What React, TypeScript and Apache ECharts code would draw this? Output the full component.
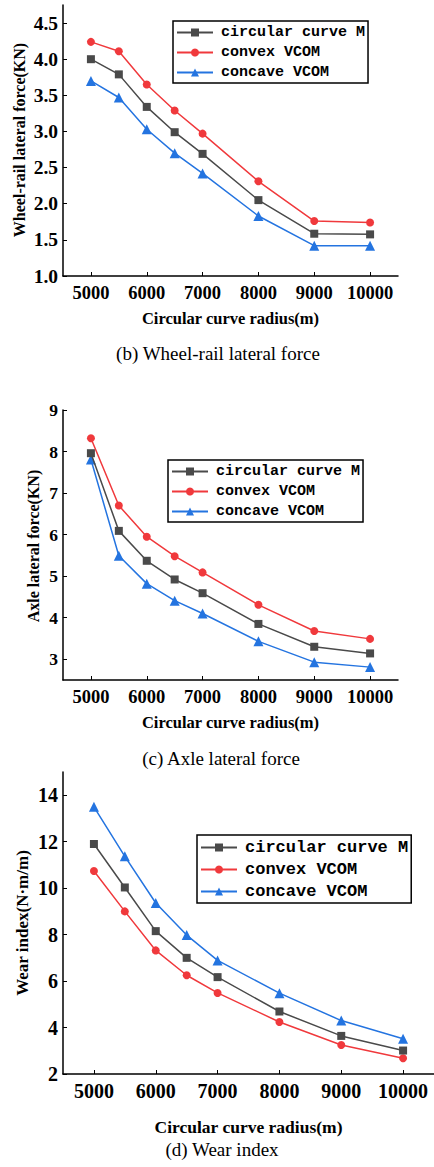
import React, { useEffect, useRef } from "react";
import * as echarts from "echarts";

const radius = [5000, 5500, 6000, 6500, 7000, 8000, 9000, 10000];
const xTicks = [5000, 6000, 7000, 8000, 9000, 10000];
const seriesNames = ["circular curve M", "convex VCOM", "concave VCOM"];

// (b) Wheel-rail lateral force (KN)
const lateralCircular = [4.0, 3.79, 3.34, 2.99, 2.69, 2.05, 1.585, 1.576];
const lateralConvex = [4.24, 4.11, 3.65, 3.29, 2.97, 2.31, 1.76, 1.74];
const lateralConcave = [3.7, 3.47, 3.03, 2.7, 2.42, 1.83, 1.42, 1.42];
const lateralTicks = [1.0, 1.5, 2.0, 2.5, 3.0, 3.5, 4.0, 4.5];

// (c) Axle lateral force (KN)
const axleCircular = [7.96, 6.09, 5.37, 4.92, 4.59, 3.85, 3.3, 3.14];
const axleConvex = [8.32, 6.7, 5.95, 5.48, 5.09, 4.31, 3.68, 3.49];
const axleConcave = [7.81, 5.49, 4.82, 4.41, 4.1, 3.43, 2.93, 2.81];
const axleTicks = [3, 4, 5, 6, 7, 8, 9];

// (d) Wear index (N·m/m)
const wearCircular = [11.9, 10.03, 8.15, 7.0, 6.17, 4.69, 3.64, 3.01];
const wearConvex = [10.74, 9.0, 7.32, 6.25, 5.49, 4.24, 3.25, 2.68];
const wearConcave = [13.5, 11.37, 9.36, 7.98, 6.89, 5.48, 4.3, 3.52];
const wearTicks = [2, 4, 6, 8, 10, 12, 14];

const COLORS = ["#4a4a4a", "#f0393c", "#2474e0"];
const SYMBOLS = ["rect", "circle", "triangle"];
const SERIF = "'Liberation Serif', 'Times New Roman', serif";
const MONO = "'Liberation Mono', 'Courier New', monospace";

export default function App() {
  const ref = useRef<HTMLDivElement>(null);

  useEffect(() => {
    if (!ref.current) return;
    const chart = echarts.init(ref.current, undefined, { renderer: "svg" });

    const grids = [
      { left: 63, top: 5, width: 335, height: 271 },
      { left: 63, top: 410, width: 335, height: 270 },
      { left: 63, top: 772, width: 375, height: 302 },
    ];
    const xFs = [18.5, 18.5, 20];
    const yFs = [19.5, 17.5, 20];
    const nameFs = [16.5, 16.5, 17.5];
    const nameGaps = [34, 34, 44];

    const axisLine = { show: true, lineStyle: { color: "#000", width: 1.5 } };

    const xAxes = grids.map((_, i) => ({
      type: "value",
      gridIndex: i,
      min: 4500,
      max: 10500,
      splitLine: { show: false },
      axisLine,
      axisTick: { show: true, inside: true, length: 4, customValues: xTicks, lineStyle: { color: "#000", width: 1 } },
      axisLabel: {
        customValues: xTicks,
        formatter: (v: number) => String(v),
        fontFamily: SERIF,
        fontWeight: "bold",
        fontSize: xFs[i],
        color: "#000",
        margin: 7,
      },
      name: "Circular curve radius(m)",
      nameLocation: "middle",
      nameGap: nameGaps[i],
      nameTextStyle: { fontFamily: SERIF, fontWeight: "bold", fontSize: nameFs[i], color: "#000", verticalAlign: "top" },
    }));

    const yConf = [
      { min: 1, max: 4.75, ticks: lateralTicks, fmt: (v: number) => v.toFixed(1) },
      { min: 2.5, max: 9, ticks: axleTicks, fmt: (v: number) => String(v) },
      { min: 2, max: 15, ticks: wearTicks, fmt: (v: number) => String(v) },
    ];
    const yAxes = yConf.map((c, i) => ({
      type: "value",
      gridIndex: i,
      min: c.min,
      max: c.max,
      splitLine: { show: false },
      axisLine,
      axisTick: { show: true, inside: true, length: 4, customValues: c.ticks, lineStyle: { color: "#000", width: 1 } },
      axisLabel: {
        customValues: c.ticks,
        formatter: c.fmt,
        fontFamily: SERIF,
        fontWeight: "bold",
        fontSize: yFs[i],
        color: "#000",
        margin: 5,
      },
    }));

    const dataSets = [
      [lateralCircular, lateralConvex, lateralConcave],
      [axleCircular, axleConvex, axleConcave],
      [wearCircular, wearConvex, wearConcave],
    ];

    const series: any[] = [];
    dataSets.forEach((set, gi) => {
      set.forEach((vals, si) => {
        series.push({
          type: "line",
          name: seriesNames[si],
          xAxisIndex: gi,
          yAxisIndex: gi,
          data: radius.map((r, k) => [r, vals[k]]),
          symbol: SYMBOLS[si],
          symbolSize: si === 2 ? 10 : 8,
          lineStyle: { color: COLORS[si], width: 1.5 },
          itemStyle: { color: COLORS[si] },
          z: si === 0 ? 3 : 2,
        });
      });
    });

    const legendPos = [
      { left: 173, top: 21, fontSize: 15, gap: 5 },
      { left: 168, top: 460, fontSize: 15, gap: 5 },
      { left: 197, top: 835, fontSize: 17, gap: 5 },
    ];
    const legends = legendPos.map((p) => ({
      orient: "vertical",
      left: p.left,
      top: p.top,
      data: seriesNames,
      selectedMode: false,
      itemWidth: 36,
      itemHeight: 10,
      itemGap: p.gap,
      padding: [4, 3, 3, 3],
      borderColor: "#000",
      borderWidth: 1.5,
      textStyle: {
        fontFamily: MONO,
        fontWeight: "bold",
        fontSize: p.fontSize,
        color: "#000",
        padding: [0, 0, 0, 3],
      },
    }));

    const yNames = [
      { text: "Wheel-rail lateral force(KN)", x: 19, y: 140, fs: 16 },
      { text: "Axle lateral force(KN)", x: 33, y: 546, fs: 16 },
      { text: "Wear index(N·m/m)", x: 22, y: 923, fs: 17 },
    ];
    const captions = [
      { text: "(b) Wheel-rail lateral force", x: 218, y: 353, fs: 19 },
      { text: "(c) Axle lateral force", x: 221, y: 758, fs: 19 },
      { text: "(d) Wear index", x: 222, y: 1149, fs: 19 },
    ];

    const graphic: any[] = [
      ...yNames.map((n) => ({
        type: "text",
        x: n.x,
        y: n.y,
        rotation: Math.PI / 2,
        style: {
          text: n.text,
          fontFamily: SERIF,
          fontWeight: "bold",
          fontSize: n.fs,
          fill: "#000",
          align: "center",
          verticalAlign: "middle",
        },
      })),
      ...captions.map((c) => ({
        type: "text",
        x: c.x,
        y: c.y,
        style: {
          text: c.text,
          fontFamily: SERIF,
          fontSize: c.fs,
          fill: "#000",
          align: "center",
          verticalAlign: "middle",
        },
      })),
    ];

    chart.setOption({
      animation: false,
      backgroundColor: "#fff",
      grid: grids,
      xAxis: xAxes,
      yAxis: yAxes,
      legend: legends,
      series,
      graphic,
    });

    return () => chart.dispose();
  }, []);

  return (
    <div
      ref={ref}
      style={{ position: "absolute", left: 0, top: 0, width: 434, height: 1167, background: "#fff" }}
    />
  );
}
